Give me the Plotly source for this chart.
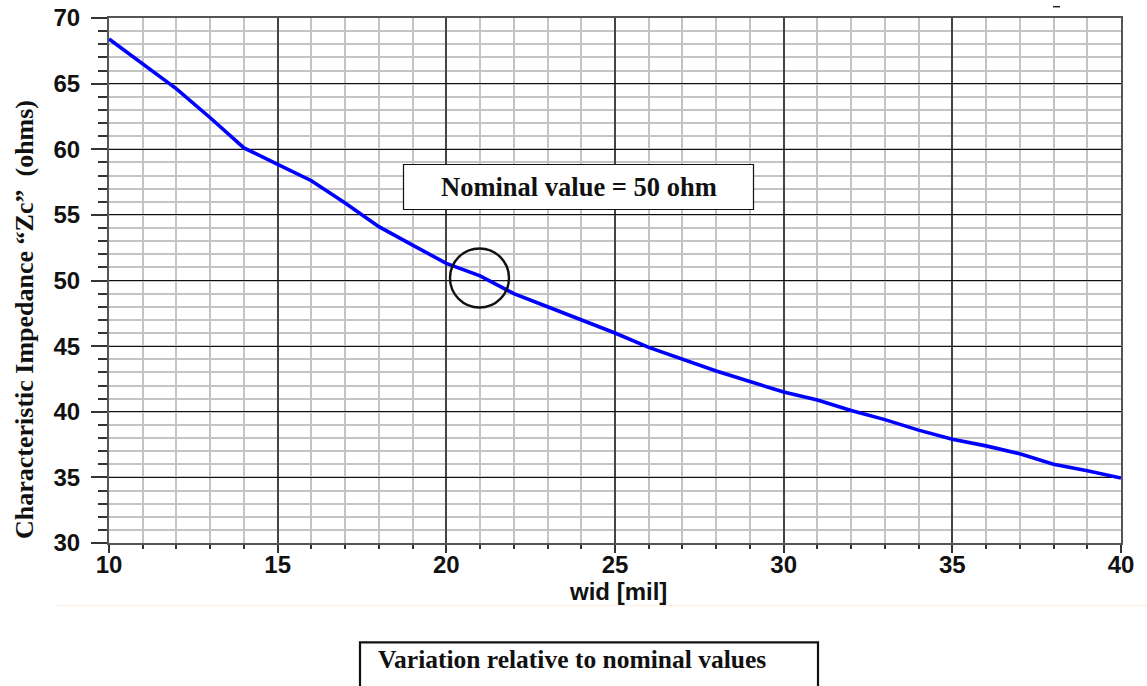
import plotly.graph_objects as go

# Data
wid_mil = [10, 11, 12, 13, 14, 15, 16, 17, 18, 19, 20, 21, 22, 23, 24, 25,
           26, 27, 28, 29, 30, 31, 32, 33, 34, 35, 36, 37, 38, 39, 40]
zc_ohms = [68.4, 66.5, 64.6, 62.4, 60.1, 58.85, 57.6, 55.9, 54.1, 52.7, 51.3,
           50.35, 49.0, 48.0, 47.0, 46.0, 44.9, 44.0, 43.1, 42.3, 41.5, 40.9,
           40.1, 39.4, 38.6, 37.9, 37.4, 36.8, 36.0, 35.5, 34.95]
x_ticks = [10, 15, 20, 25, 30, 35, 40]
y_ticks = [30, 35, 40, 45, 50, 55, 60, 65, 70]

nominal_label = "Nominal value = 50 ohm"
bottom_label = "Variation relative to nominal values"
x_title = "wid [mil]"
y_title = "Characteristic Impedance \u201cZc\u201d  (ohms)"

W, H = 1147, 686
ML, MR, MT, MB = 109, 26, 18, 143
PW, PH = W - ML - MR, H - MT - MB


def px(xp):
    return (xp - ML) / PW


def py(yp):
    return (H - MB - yp) / PH


fig = go.Figure()
fig.add_trace(go.Scatter(x=wid_mil, y=zc_ohms, mode="lines",
                         line=dict(color="#0000ff", width=3.6),
                         showlegend=False, hoverinfo="x+y"))

sans = "Liberation Sans, Arial, sans-serif"
serif = "Liberation Serif, Times New Roman, serif"
tick_font = dict(family=sans, size=24, color="#111")

fig.update_layout(
    width=W, height=H,
    margin=dict(l=ML, r=MR, t=MT, b=MB),
    paper_bgcolor="white", plot_bgcolor="white",
    xaxis=dict(range=[10, 40], tickvals=x_ticks,
               ticktext=["<b>%d</b>" % v for v in x_ticks],
               showgrid=True, gridcolor="#444", gridwidth=1.6,
               ticks="outside", ticklen=8, tickwidth=1.5, tickcolor="#333",
               showline=True, linecolor="#555", linewidth=2, mirror=True,
               tickfont=tick_font, zeroline=False, automargin=False,
               ticklabelstandoff=-9,
               minor=dict(dtick=1, showgrid=True, gridcolor="#c4c4c4", gridwidth=1.6,
                          ticks="outside", ticklen=4, tickcolor="#333", tickwidth=1.5)),
    yaxis=dict(range=[30, 70], tickvals=y_ticks,
               ticktext=["<b>%d</b>" % v for v in y_ticks],
               showgrid=True, gridcolor="#111", gridwidth=1.4,
               ticks="outside", ticklen=16, tickwidth=1.5, tickcolor="#333",
               showline=True, linecolor="#555", linewidth=2, mirror=True,
               tickfont=tick_font, zeroline=False, ticklabelstandoff=6,
               automargin=False,
               minor=dict(dtick=1, showgrid=True, gridcolor="#c4c4c4", gridwidth=1.6,
                          ticks="outside", ticklen=9, tickcolor="#333", tickwidth=1.5)),
)

shapes = [
    # nominal value box
    dict(type="rect", xref="paper", yref="paper",
         x0=px(403.5), x1=px(753.5), y0=py(209.5), y1=py(164.5),
         line=dict(color="#111", width=1.2), fillcolor="white", layer="above"),
    # circle around nominal point
    dict(type="circle", xref="paper", yref="paper",
         x0=px(450), x1=px(509), y0=py(307.5), y1=py(248.5),
         line=dict(color="#111", width=2.4), layer="above"),
    # faint separator line
    dict(type="line", xref="paper", yref="paper",
         x0=px(55), x1=px(1147), y0=py(605.7), y1=py(605.7),
         line=dict(color="#fbeee6", width=1.2)),
    # bottom box
    dict(type="rect", xref="paper", yref="paper",
         x0=px(360), x1=px(818), y0=py(700), y1=py(642.3),
         line=dict(color="#111", width=2.2), fillcolor="white"),
    # small dash at top
    dict(type="line", xref="paper", yref="paper",
         x0=px(1053), x1=px(1060), y0=py(6.7), y1=py(6.7),
         line=dict(color="#222", width=1.5)),
]
fig.update_layout(shapes=shapes)

fig.add_annotation(xref="paper", yref="paper", x=px(617.5), y=py(591),
                   text="<b>" + x_title + "</b>", showarrow=False,
                   font=dict(family=sans, size=24, color="#111"),
                   xanchor="center", yanchor="middle")
fig.add_annotation(xref="paper", yref="paper", x=px(578.5), y=py(187),
                   text="<b>" + nominal_label + "</b>", showarrow=False,
                   font=dict(family=serif, size=26.5, color="#111"),
                   xanchor="center", yanchor="middle")
fig.add_annotation(xref="paper", yref="paper", x=px(572), y=py(659),
                   text="<b>" + bottom_label + "</b>", showarrow=False,
                   font=dict(family=serif, size=25.5, color="#111"),
                   xanchor="center", yanchor="middle")
fig.add_annotation(xref="paper", yref="paper", x=px(24), y=py(320),
                   text="<b>" + y_title + "</b>", showarrow=False, textangle=-90,
                   font=dict(family=serif, size=26, color="#111"),
                   xanchor="center", yanchor="middle")

fig.write_html("out.html")
